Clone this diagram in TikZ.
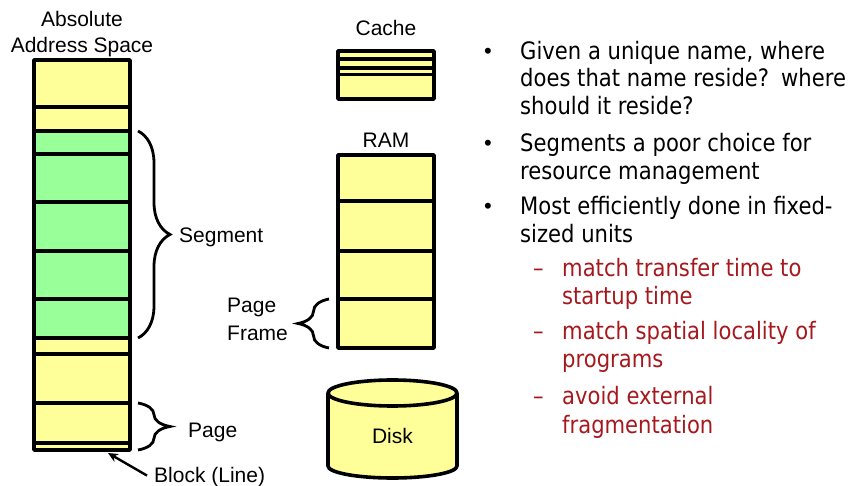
\documentclass[tikz,border=0pt]{standalone}
\usepackage{fontspec}
\setmainfont{Liberation Sans}
\newfontfamily\notefont[FakeStretch=0.88]{DejaVu Sans}
\usetikzlibrary{decorations.pathreplacing,arrows.meta}
\definecolor{memyellow}{RGB}{255,255,153}
\definecolor{memgreen}{RGB}{153,255,153}
\definecolor{notered}{RGB}{165,25,30}

\begin{document}
\begin{tikzpicture}[x=1pt,y=-1pt,
  lbl/.style={font=\fontsize{21}{25}\selectfont, inner sep=0pt, anchor=base},
  lblw/.style={lbl, anchor=base west},
  note/.style={font=\notefont\fontsize{24}{28}\selectfont, inner sep=0pt, anchor=base west},
  subnote/.style={note, text=notered},
  bulletmark/.style={font=\fontsize{22}{24}\selectfont, inner sep=0pt, anchor=base west},
  dashmark/.style={subnote},
  frame/.style={line width=3.6pt, line join=round},
  divider/.style={line width=3.3pt},
  thinframe/.style={line width=2.6pt},
  bracestyle/.style={decorate, decoration={brace, amplitude=#1}, line width=2.8pt},
  pointer/.style={line width=2.4pt, -{Stealth[length=10pt,width=9pt]}}
]
\useasboundingbox (0,0) rectangle (852,486);

% ---- absolute address space column ----
\fill[memyellow] (34,60) rectangle (130,450);
\fill[memgreen] (34,131) rectangle (130,338);
\foreach \yy in {107,131,154,202,251,299,338,354,403,443}
  \draw[divider] (34,\yy) -- (130,\yy);
\draw[frame] (34,60) rectangle (130,450);
\node[lbl] (abs1) at (82,26.5) {Absolute};
\node[lbl] (abs2) at (82,53) {Address Space};

% ---- cache ----
\filldraw[fill=memyellow, frame] (338,51) rectangle (434,99);
\draw[divider] (338,59) -- (434,59);
\draw[divider] (338,68) -- (434,68);
\draw[thinframe] (338,74.7) -- (434,74.7);
\node[lbl] (cache) at (386,36) {Cache};

% ---- RAM ----
\filldraw[fill=memyellow, frame] (338,155) rectangle (434,348);
\foreach \yy in {201,251,299}
  \draw[divider] (338,\yy) -- (434,\yy);
\node[lbl] (ram) at (386,148) {RAM};

% ---- disk ----
\fill[memyellow] (328,393) -- (328,466)
  arc[start angle=180, end angle=360, x radius=64.5pt, y radius=12pt]
  -- (457,393)
  arc[start angle=0, end angle=180, x radius=64.5pt, y radius=13pt] -- cycle;
\draw[frame] (328,393) -- (328,466)
  arc[start angle=180, end angle=360, x radius=64.5pt, y radius=12pt]
  -- (457,393);
\draw[frame] (392.5,393) ellipse[x radius=64.5pt, y radius=13pt];
\node[lbl] (disk) at (392.5,443) {Disk};

% ---- braces and their labels ----
\draw[bracestyle=32pt] (138,131) -- (138,338);
\node[lblw] (segment) at (179,243) {Segment};
\draw[bracestyle=32pt] (138,403) -- (138,450);
\node[lblw] (page) at (188,437) {Page};
\draw[bracestyle=31pt] (329,348) -- (329,299);
\node[lblw] (pf1) at (227,313) {Page};
\node[lblw] (pf2) at (227,341) {Frame};

% ---- block pointer ----
\node[lblw] (block) at (154,482) {Block (Line)};
\coordinate (blocktip) at (108,453);
\draw[pointer] ([xshift=-7pt,yshift=1pt]block.west) -- (blocktip);

% ---- notes ----
\node[bulletmark] (b1) at (484,59) {•};
\node[note] (n1a) at (520,60) {Given a unique name, where};
\node[note] (n1b) at (520,87) {does that name reside?\hspace{12pt}where};
\node[note] (n1c) at (520,115) {should it reside?};
\node[bulletmark] (b2) at (484,151) {•};
\node[note] (n2a) at (520,152) {Segments a poor choice for};
\node[note] (n2b) at (520,180) {resource management};
\node[bulletmark] (b3) at (484,214) {•};
\node[note] (n3a) at (520,215) {Most efficiently done in fixed-};
\node[note] (n3b) at (520,243) {sized units};

\node[dashmark] (d1) at (533,277) {–};
\node[subnote] (s1a) at (562,277) {match transfer time to};
\node[subnote] (s1b) at (562,305) {startup time};
\node[dashmark] (d2) at (533,340) {–};
\node[subnote] (s2a) at (562,340) {match spatial locality of};
\node[subnote] (s2b) at (562,368) {programs};
\node[dashmark] (d3) at (533,405) {–};
\node[subnote] (s3a) at (562,405) {avoid external};
\node[subnote] (s3b) at (562,433) {fragmentation};
\end{tikzpicture}
\end{document}
